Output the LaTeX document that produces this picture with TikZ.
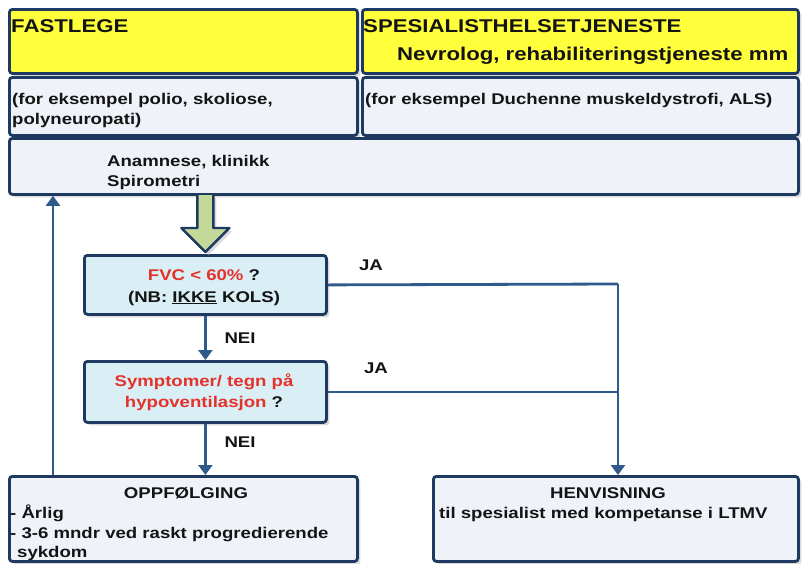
\documentclass[tikz,border=0pt]{standalone}
\usepackage{fontspec}
\setmainfont{Liberation Sans}[FakeStretch=1.2]
\usetikzlibrary{arrows.meta,shadows,calc}
\definecolor{navy}{HTML}{1F3A60}
\definecolor{conn}{HTML}{2E5A8C}
\definecolor{ylw}{HTML}{FFFF3C}
\definecolor{pale}{HTML}{EFF3F9}
\definecolor{qblue}{HTML}{D9EEF5}
\definecolor{garr}{HTML}{C4D89A}
\definecolor{redt}{HTML}{E4322B}
\definecolor{txt}{HTML}{141414}
\begin{document}
\begin{tikzpicture}[x=1pt,y=-1pt,
  box/.style={draw=navy,line width=2.8pt,rounded corners=3pt,anchor=north west,inner sep=0pt,
    drop shadow={shadow xshift=3pt,shadow yshift=-3pt,fill=gray!40,opacity=0.7}},
  yellowbox/.style={box,fill=ylw},
  palebox/.style={box,fill=pale},
  qbox/.style={box,fill=qblue},
  head/.style={font=\fontsize{18.5}{24}\selectfont\bfseries,text=txt,inner sep=0pt},
  body/.style={font=\fontsize{15.5}{20}\selectfont\bfseries,text=txt,inner sep=0pt},
  conline/.style={draw=conn,line width=2.8pt},
  conarrow/.style={conline,-{Triangle[width=14pt,length=10pt]}}
]
\useasboundingbox (0,0) rectangle (802,563);
% boxes
\node[yellowbox,minimum width=348pt,minimum height=64pt] (fl) at (8,8) {};
\node[yellowbox,minimum width=436pt,minimum height=64pt] (sp) at (361,8) {};
\node[palebox,minimum width=348pt,minimum height=58pt] (fl2) at (8,76) {};
\node[palebox,minimum width=436pt,minimum height=58pt] (sp2) at (361,76) {};
\node[palebox,minimum width=789pt,minimum height=56pt] (ana) at (8,137) {};
\node[qbox,minimum width=242pt,minimum height=59pt] (fvc) at (83,254) {};
\node[qbox,minimum width=242pt,minimum height=61pt] (symp) at (83,360) {};
\node[palebox,minimum width=348pt,minimum height=85pt] (opp) at (8,475) {};
\node[palebox,minimum width=365pt,minimum height=85pt] (henv) at (432,475) {};

% texts
\node[head,anchor=base west] (t1) at (11,32) {FASTLEGE};
\node[head,anchor=base west] (t2) at (363,32) {SPESIALISTHELSETJENESTE};
\node[head,anchor=base west] (t3) at (397,60) {Nevrolog, rehabiliteringstjeneste mm};
\node[body,anchor=base west] (t4) at (12,104) {(for eksempel polio, skoliose,};
\node[body,anchor=base west] (t5) at (12,124) {polyneuropati)};
\node[body,anchor=base west] (t6) at (365,104) {(for eksempel Duchenne muskeldystrofi, ALS)};
\node[body,anchor=base west] (t7) at (107,166) {Anamnese, klinikk};
\node[body,anchor=base west] (t8) at (107,186) {Spirometri};
\node[body,anchor=base] (t9) at (204,280) {\textcolor{redt}{FVC < 60\%} ?};
\node[body,anchor=base] (t10) at (204,302) {(NB: \underline{IKKE} KOLS)};
\node[body,anchor=base] (t11) at (204,386) {\textcolor{redt}{Symptomer/ tegn på}};
\node[body,anchor=base] (t12) at (204,407) {\textcolor{redt}{hypoventilasjon} ?};
\node[body,anchor=base] (nei1) at (240,343) {NEI};
\node[body,anchor=base] (nei2) at (240,447) {NEI};
\node[body,anchor=base] (ja1) at (371,270) {JA};
\node[body,anchor=base] (ja2) at (376,373) {JA};
\node[body,anchor=base] (t13) at (186,498) {OPPFØLGING};
\node[body,anchor=base west] (t14) at (10,518) {- Årlig};
\node[body,anchor=base west] (t15) at (10,538) {- 3-6 mndr ved raskt progredierende};
\node[body,anchor=base west] (t16) at (17,557) {sykdom};
\node[body,anchor=base] (t17) at (608,498) {HENVISNING};
\node[body,anchor=base west] (t18) at (439,518) {til spesialist med kompetanse i LTMV};

% green block arrow
\draw[draw=navy,line width=2.4pt,fill=garr,line join=round,
  drop shadow={shadow xshift=3pt,shadow yshift=-3pt,fill=gray!40,opacity=0.7}]
  ($(fvc.north)+(-8,-59)$) -- ($(fvc.north)+(-8,-26)$) -- ($(fvc.north)+(-24,-26)$)
  -- ($(fvc.north)+(0,-2)$) -- ($(fvc.north)+(24,-26)$) -- ($(fvc.north)+(8,-26)$)
  -- ($(fvc.north)+(8,-59)$);

% connectors
\coordinate (jx) at (618,284);
\coordinate (up) at (53,475);
\draw[conarrow] (fvc.south) -- (fvc.south |- symp.north);
\draw[conarrow] (symp.south) -- (symp.south |- opp.north);
\draw[conline] (fvc.east) -- (jx);
\draw[conarrow] (jx) -- (jx |- henv.north);
\draw[conline] (symp.east) -- (symp.east -| jx);
\draw[conarrow] (up) -- (up |- ana.south);
\end{tikzpicture}
\end{document}
